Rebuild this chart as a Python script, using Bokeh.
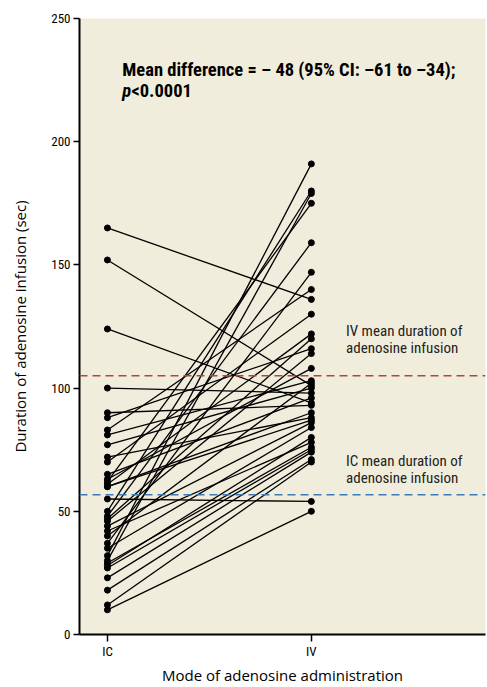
from bokeh.plotting import figure
from bokeh.models import FixedTicker, Span
from bokeh.core.properties import value
from bokeh.embed import file_html
from bokeh.resources import INLINE

# ---- data ----
categories = ["IC", "IV"]
ic_values = [165, 152, 124, 100, 90, 88, 83, 81, 77, 72, 70, 65, 63, 62, 61, 60, 60, 55,
             50, 48, 47, 46, 44, 42, 40, 37, 35, 32, 30, 29, 28, 27, 23, 18, 12, 10]
iv_values = [136, 101, 94, 98, 93, 116, 140, 103, 100, 88, 130, 96, 108, 175, 122, 87, 90, 54,
             180, 159, 120, 114, 86, 78, 102, 147, 84, 191, 179, 76, 80, 75, 74, 71, 70, 50]
iv_mean = 105
ic_mean = 56.7
y_ticks = [0, 50, 100, 150, 200, 250]

COND = "Roboto Condensed, Roboto, sans-serif"

p = figure(width=487, height=687, output_backend="svg", toolbar_location=None,
           x_range=(0.863, 2.854), y_range=(0, 250),
           min_border_left=79, min_border_right=2, min_border_top=18, min_border_bottom=52)
p.background_fill_color = "#F1EDDC"
p.border_fill_color = "white"
p.outline_line_color = None
p.grid.visible = False

xs = [[1, 2] for _ in ic_values]
ys = [[a, b] for a, b in zip(ic_values, iv_values)]
p.multi_line(xs=xs, ys=ys, line_color="black", line_width=1.3)
p.scatter(x=[1] * len(ic_values), y=ic_values, size=6, color="black")
p.scatter(x=[2] * len(iv_values), y=iv_values, size=6, color="black")

p.add_layout(Span(location=iv_mean, dimension="width", line_color="#B5443A",
                  line_dash="8 5", line_width=1.5))
p.add_layout(Span(location=ic_mean, dimension="width", line_color="#3B7BB8",
                  line_dash="8 5", line_width=1.5))

# annotations
p.text(x=[1.073], y=[233.5], text=["Mean difference = \u2013 48 (95% CI: \u201361 to \u201334);"],
       text_font=value(COND), text_font_size="18.5px", text_font_style="bold",
       text_baseline="top", text_color="black")
p.text(x=[1.073], y=[225], text=["p"], text_font=value(COND), text_font_size="18.5px",
       text_font_style="bold italic", text_baseline="top", text_color="black")
p.text(x=[1.118], y=[225], text=["<0.0001"], text_font=value(COND), text_font_size="18.5px",
       text_font_style="bold", text_baseline="top", text_color="black")

p.text(x=[2.17, 2.17], y=[127, 120], text=["IV mean duration of", "adenosine infusion"],
       text_font=value(COND), text_font_size="15px", text_baseline="top", text_color="#222222")
p.text(x=[2.17, 2.17], y=[74, 67], text=["IC mean duration of", "adenosine infusion"],
       text_font=value(COND), text_font_size="15px", text_baseline="top", text_color="#222222")

# axes
p.yaxis.ticker = FixedTicker(ticks=y_ticks)
p.yaxis.axis_label = "Duration of adenosine infusion (sec)"
p.xaxis.ticker = FixedTicker(ticks=[1, 2])
p.xaxis.major_label_overrides = {1: categories[0], 2: categories[1]}
p.xaxis.axis_label = "Mode of adenosine administration"
for ax in (p.xaxis, p.yaxis):
    ax.axis_line_color = "black"
    ax.axis_line_width = 2
    ax.major_tick_line_color = "black"
    ax.major_tick_line_width = 1.5
    ax.major_tick_in = 0
    ax.minor_tick_line_color = None
    ax.major_label_text_font = COND
    ax.major_label_text_font_size = "13px"
    ax.major_label_text_color = "black"
    ax.axis_label_text_font = "Open Sans"
    ax.axis_label_text_font_size = "15px"
    ax.axis_label_text_font_style = "normal"
    ax.axis_label_text_color = "black"
p.yaxis.major_tick_out = 6
p.xaxis.major_tick_out = 7
p.yaxis.major_label_standoff = 3
p.xaxis.major_label_standoff = 2
p.yaxis.axis_label_standoff = 18
p.xaxis.axis_label_standoff = 3

open("out.html", "w").write(file_html(p, INLINE))
